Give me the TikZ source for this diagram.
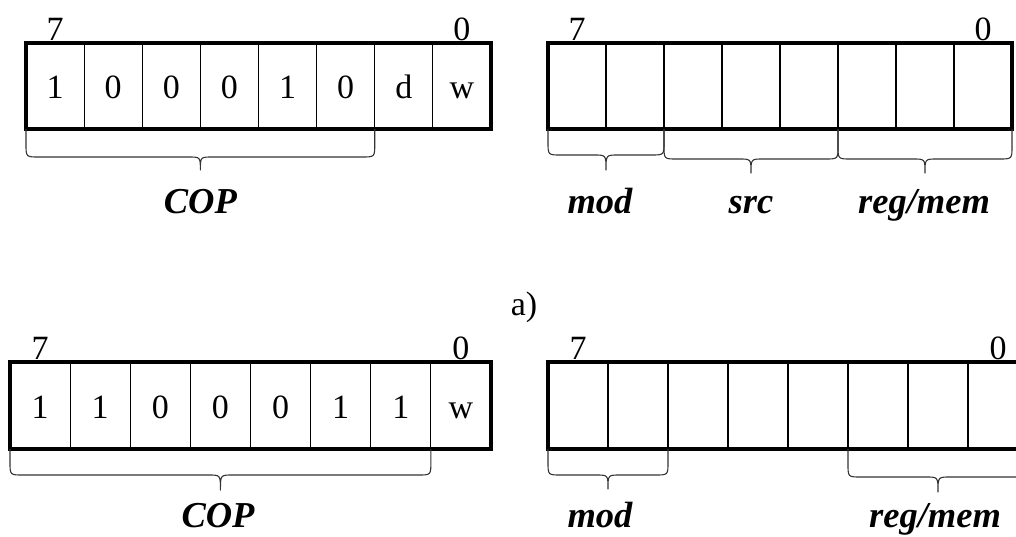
\documentclass[tikz,border=0pt]{standalone}
\usepackage{fontspec}
\setmainfont{Liberation Serif}
\tikzset{
  outer/.style={line width=4pt, line join=miter},
  divider/.style={line width=1.2pt},
  bracepath/.style={line width=1.1pt, draw=black!80, line join=round},
  bit/.style={font=\fontsize{34}{40}\selectfont, anchor=base, inner sep=0pt},
  idx/.style={font=\fontsize{34}{40}\selectfont, anchor=base, inner sep=0pt},
  field/.style={font=\fontsize{36.5}{42}\selectfont\bfseries\itshape, anchor=base, inner sep=0pt},
}
% x1 x2 y0 yh ytip
\newcommand\curly[5]{%
  \draw[bracepath] (#1,#3) -- (#1,#4-13) .. controls (#1,#4) .. (#1+13,#4)
    -- ({(#1+#2)/2-12},#4) .. controls ({(#1+#2)/2},#4) .. ({(#1+#2)/2},#5)
    .. controls ({(#1+#2)/2},#4) .. ({(#1+#2)/2+12},#4)
    -- (#2-13,#4) .. controls (#2,#4) .. (#2,#4-13) -- (#2,#3);
}
% x0 w ytop ybot
\newcommand\register[4]{%
  \draw[divider] foreach \i in {1,...,7} {(#1+\i*#2,#3) -- (#1+\i*#2,#4)};
  \draw[outer] (#1,#3) rectangle (#1+8*#2,#4);
}
\begin{document}
\begin{tikzpicture}[x=1pt,y=-1pt]
\path[use as bounding box] (0,0) rectangle (1016,536);
\clip (0,0) rectangle (1016,536);

% ---------- a) top-left register ----------
\register{26}{58.125}{43}{129}
\foreach \b [count=\i from 0] in {1,0,0,0,1,0,d,w}
  \node[bit] (tlb\i) at ({26+(\i+0.5)*58.125},98) {\b};
\node[idx] (tl7) at ({26+0.5*58.125},40.5) {7};
\node[idx] (tl0) at ({26+7.5*58.125},40.5) {0};
\curly{26}{374.75}{129}{157}{170}
\node[field] (tlcop) at (200.4,213) {COP};

% ---------- a) top-right register ----------
\register{548}{58}{43}{129}
\node[idx] (tr7) at ({548+0.5*58},40.5) {7};
\node[idx] (tr0) at ({548+7.5*58},40.5) {0};
\curly{548}{664}{129}{155}{170}
\curly{664}{838}{129}{159}{173}
\curly{838}{1012}{129}{159}{173}
\node[field] (trmod) at (600,213) {mod};
\node[field] (trsrc) at (751,213) {src};
\node[field] (trreg) at (924,213) {reg/mem};

\node[idx] (lbla) at (524,315) {a)};

% ---------- bottom-left register ----------
\register{10}{60.125}{362}{449}
\foreach \b [count=\i from 0] in {1,1,0,0,0,1,1,w}
  \node[bit] (blb\i) at ({10+(\i+0.5)*60.125},418) {\b};
\node[idx] (bl7) at ({10+0.5*60.125},359.5) {7};
\node[idx] (bl0) at ({10+7.5*60.125},359.5) {0};
\curly{10}{430.875}{449}{475}{490}
\node[field] (blcop) at (218,527) {COP};

% ---------- bottom-right register ----------
\register{548}{60}{362}{449}
\node[idx] (br7) at ({548+0.5*60},359.5) {7};
\node[idx] (br0) at ({548+7.5*60},359.5) {0};
\curly{548}{668}{449}{475}{489}
\curly{848}{1028}{449}{477}{492}
\node[field] (brmod) at (600,527) {mod};
\node[field] (brreg) at (935,527) {reg/mem};
\end{tikzpicture}
\end{document}
